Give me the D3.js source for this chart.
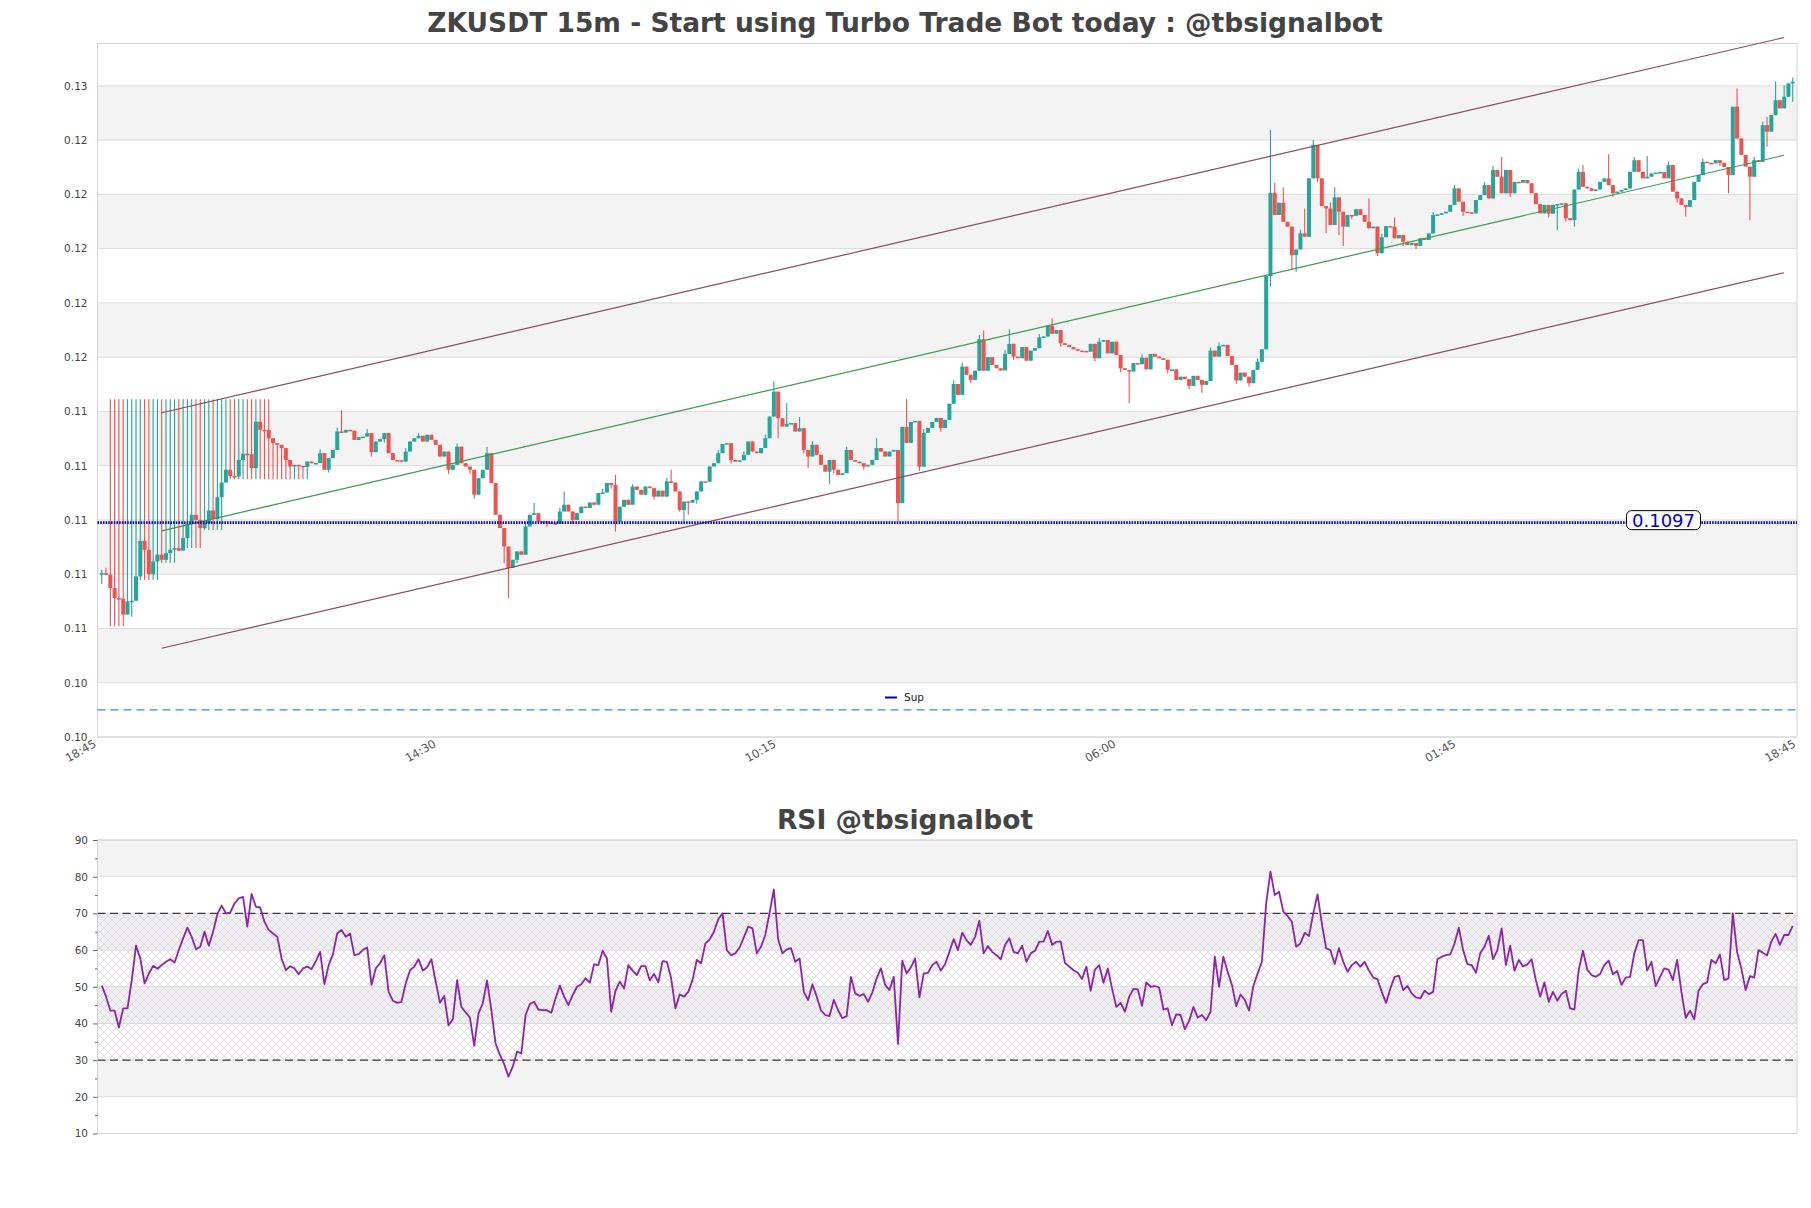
<!DOCTYPE html>
<html>
<head>
<meta charset="utf-8">
<script src="https://cdn.jsdelivr.net/npm/d3@7"></script>
<style>
  body { margin: 0; background: #fff; }
  svg text { font-family: "DejaVu Sans", sans-serif; }
</style>
</head>
<body>
<svg id="chart" width="1811" height="1208"></svg>
<script>
// 15m closes (open of a candle = close of the one before)
var firstOpen = 0.10784;
var closes = [
  0.10784, 0.10778, 0.10729, 0.10692, 0.10690, 0.10631, 0.10680, 0.10682, 0.10772, 0.10903,
  0.10870, 0.10780, 0.10827, 0.10852, 0.10833, 0.10858, 0.10870, 0.10876, 0.10867, 0.10913,
  0.10966, 0.10999, 0.10980, 0.10950, 0.10968, 0.11015, 0.10983, 0.11064, 0.11118, 0.11165,
  0.11142, 0.11140, 0.11201, 0.11224, 0.11222, 0.11171, 0.11342, 0.11312, 0.11311, 0.11281,
  0.11263, 0.11257, 0.11245, 0.11201, 0.11177, 0.11183, 0.11179, 0.11175, 0.11195, 0.11189,
  0.11190, 0.11226, 0.11165, 0.11208, 0.11238, 0.11306, 0.11302, 0.11312, 0.11309, 0.11275,
  0.11285, 0.11287, 0.11300, 0.11230, 0.11269, 0.11278, 0.11300, 0.11226, 0.11201, 0.11200,
  0.11195, 0.11232, 0.11269, 0.11281, 0.11290, 0.11269, 0.11294, 0.11275, 0.11257, 0.11214,
  0.11232, 0.11165, 0.11183, 0.11250, 0.11189, 0.11177, 0.11165, 0.11073, 0.11134, 0.11165,
  0.11226, 0.11116, 0.10999, 0.10950, 0.10882, 0.10803, 0.10833, 0.10864, 0.10852, 0.10956,
  0.10999, 0.11005, 0.10974, 0.10975, 0.10971, 0.10968, 0.10966, 0.11011, 0.11036, 0.11011,
  0.10980, 0.11005, 0.11029, 0.11024, 0.11044, 0.11036, 0.11079, 0.11081, 0.11116, 0.11109,
  0.10974, 0.11029, 0.11054, 0.11036, 0.11103, 0.11091, 0.11073, 0.11103, 0.11097, 0.11066,
  0.11088, 0.11066, 0.11122, 0.11118, 0.11085, 0.11017, 0.11048, 0.11044, 0.11054, 0.11085,
  0.11122, 0.11121, 0.11177, 0.11189, 0.11226, 0.11260, 0.11263, 0.11201, 0.11195, 0.11200,
  0.11220, 0.11269, 0.11232, 0.11226, 0.11245, 0.11281, 0.11361, 0.11453, 0.11355, 0.11324,
  0.11334, 0.11337, 0.11306, 0.11318, 0.11238, 0.11214, 0.11257, 0.11220, 0.11183, 0.11158,
  0.11201, 0.11165, 0.11146, 0.11152, 0.11238, 0.11201, 0.11195, 0.11189, 0.11177, 0.11183,
  0.11201, 0.11245, 0.11232, 0.11214, 0.11232, 0.11238, 0.11042, 0.11323, 0.11264, 0.11341,
  0.11345, 0.11176, 0.11301, 0.11319, 0.11341, 0.11356, 0.11319, 0.11349, 0.11408, 0.11481,
  0.11441, 0.11545, 0.11515, 0.11496, 0.11530, 0.11646, 0.11530, 0.11580, 0.11551, 0.11539,
  0.11531, 0.11592, 0.11629, 0.11582, 0.11576, 0.11617, 0.11567, 0.11604, 0.11613, 0.11653,
  0.11656, 0.11696, 0.11666, 0.11680, 0.11631, 0.11625, 0.11617, 0.11609, 0.11604, 0.11603,
  0.11600, 0.11629, 0.11576, 0.11637, 0.11643, 0.11594, 0.11637, 0.11588, 0.11539, 0.11533,
  0.11527, 0.11558, 0.11554, 0.11578, 0.11535, 0.11592, 0.11582, 0.11576, 0.11570, 0.11533,
  0.11535, 0.11496, 0.11508, 0.11499, 0.11474, 0.11511, 0.11496, 0.11478, 0.11492, 0.11604,
  0.11582, 0.11621, 0.11625, 0.11584, 0.11551, 0.11494, 0.11523, 0.11508, 0.11484, 0.11533,
  0.11563, 0.11609, 0.11879, 0.12186, 0.12104, 0.12149, 0.12079, 0.12061, 0.11956, 0.11977,
  0.12036, 0.12024, 0.12239, 0.12362, 0.12239, 0.12137, 0.12128, 0.12067, 0.12169, 0.12116,
  0.12061, 0.12104, 0.12101, 0.12125, 0.12104, 0.12079, 0.12055, 0.12061, 0.11963, 0.12022,
  0.12063, 0.12061, 0.12018, 0.12030, 0.12005, 0.11993, 0.12000, 0.11990, 0.12018, 0.12012,
  0.12036, 0.12104, 0.12106, 0.12110, 0.12116, 0.12141, 0.12202, 0.12153, 0.12116, 0.12114,
  0.12110, 0.12159, 0.12177, 0.12214, 0.12165, 0.12270, 0.12245, 0.12184, 0.12270, 0.12184,
  0.12226, 0.12223, 0.12233, 0.12221, 0.12184, 0.12144, 0.12110, 0.12141, 0.12109, 0.12141,
  0.12144, 0.12147, 0.12092, 0.12085, 0.12198, 0.12263, 0.12208, 0.12202, 0.12193, 0.12198,
  0.12226, 0.12239, 0.12214, 0.12184, 0.12190, 0.12196, 0.12202, 0.12263, 0.12306, 0.12263,
  0.12239, 0.12245, 0.12257, 0.12260, 0.12262, 0.12239, 0.12288, 0.12190, 0.12165, 0.12141,
  0.12134, 0.12159, 0.12226, 0.12251, 0.12300, 0.12296, 0.12294, 0.12306, 0.12296, 0.12281,
  0.12251, 0.12503, 0.12386, 0.12325, 0.12282, 0.12245, 0.12306, 0.12300, 0.12435, 0.12411,
  0.12472, 0.12527, 0.12497, 0.12540, 0.12589, 0.12595
];

// wicks that stick out of the body, by candle index
var highs = {
  0: 0.10796, 1: 0.10804,
  2: 0.11425, 3: 0.11425, 4: 0.11425, 5: 0.11425, 6: 0.11425, 7: 0.11425, 8: 0.11425, 9: 0.11425,
  10: 0.11425, 11: 0.11425, 12: 0.11425, 13: 0.11425, 14: 0.11425, 15: 0.11425, 16: 0.11425,
  17: 0.11425, 18: 0.11425, 19: 0.11425, 20: 0.11425, 21: 0.11425, 22: 0.11425, 23: 0.11425,
  24: 0.11425, 25: 0.11425, 26: 0.11425, 27: 0.11425, 28: 0.11425, 29: 0.11425, 30: 0.11425,
  31: 0.11425, 32: 0.11425, 33: 0.11425, 34: 0.11425, 35: 0.11425, 36: 0.11425, 37: 0.11425,
  38: 0.11425, 39: 0.11425,
  51: 0.11240, 55: 0.11320, 56: 0.11385, 62: 0.11315, 71: 0.11245, 74: 0.11300, 83: 0.11262,
  90: 0.11250, 99: 0.10968, 101: 0.11042, 107: 0.11025, 108: 0.11085, 117: 0.11095, 120: 0.11146,
  124: 0.11112, 132: 0.11135, 133: 0.11165, 144: 0.11237, 150: 0.11232, 155: 0.11295, 157: 0.11490,
  160: 0.11410, 163: 0.11359, 166: 0.11270, 174: 0.11250, 181: 0.11281, 188: 0.11426, 192: 0.11315,
  199: 0.11495, 201: 0.11560, 205: 0.11662, 206: 0.11678, 211: 0.11605, 212: 0.11683, 219: 0.11665,
  222: 0.11723, 233: 0.11650, 243: 0.11590, 259: 0.11615, 261: 0.11635, 270: 0.11575, 273: 0.12417,
  274: 0.12223, 276: 0.12206, 280: 0.12050, 281: 0.12128, 283: 0.12380, 287: 0.12150, 288: 0.12206,
  296: 0.12165, 299: 0.12035, 302: 0.12095, 311: 0.12115, 316: 0.12215, 323: 0.12225, 325: 0.12285,
  327: 0.12318, 345: 0.12275, 346: 0.12288, 352: 0.12328, 358: 0.12318, 361: 0.12321, 366: 0.12300,
  374: 0.12312, 382: 0.12570, 386: 0.12318, 388: 0.12448, 389: 0.12466, 391: 0.12597, 393: 0.12583,
  395: 0.12611
};
var lows = {
  0: 0.10745, 2: 0.10588, 3: 0.10588, 4: 0.10588, 5: 0.10588, 7: 0.10623, 8: 0.10686,
  9: 0.10759, 10: 0.10759, 11: 0.10759, 12: 0.10759, 13: 0.10759, 14: 0.10822, 15: 0.10822,
  16: 0.10822, 17: 0.10822, 18: 0.10877, 19: 0.10877, 20: 0.10877, 21: 0.10877, 22: 0.10877,
  23: 0.10877, 24: 0.10943, 25: 0.10943, 26: 0.10943, 27: 0.10943, 28: 0.10943, 29: 0.11130,
  30: 0.11130, 31: 0.11130, 32: 0.11130, 33: 0.11130, 34: 0.11130, 35: 0.11130, 36: 0.11130,
  37: 0.11130, 38: 0.11130, 39: 0.11130, 40: 0.11130, 41: 0.11130, 42: 0.11130, 43: 0.11130,
  44: 0.11130, 45: 0.11130, 46: 0.11130, 47: 0.11130, 48: 0.11130,
  53: 0.11155, 63: 0.11214, 66: 0.11265, 81: 0.11150, 86: 0.11150, 87: 0.11058, 94: 0.10820,
  95: 0.10692, 97: 0.10820, 104: 0.10955, 110: 0.10965, 119: 0.11095, 120: 0.10937, 129: 0.11055,
  135: 0.11011, 136: 0.10974, 137: 0.10999, 139: 0.11040, 147: 0.11188, 158: 0.11281, 164: 0.11225,
  165: 0.11171, 170: 0.11113, 171: 0.11150, 178: 0.11165, 186: 0.10974, 191: 0.11160, 196: 0.11305,
  203: 0.11485, 213: 0.11570, 224: 0.11618, 232: 0.11565, 238: 0.11525, 240: 0.11410, 249: 0.11520,
  254: 0.11462, 257: 0.11449, 265: 0.11482, 268: 0.11472, 273: 0.11840, 278: 0.11904, 279: 0.11895,
  284: 0.12225, 286: 0.12038, 289: 0.12030, 290: 0.11990, 292: 0.12088, 298: 0.11953, 304: 0.11990,
  307: 0.11978, 318: 0.12100, 329: 0.12170, 338: 0.12095, 340: 0.12048, 342: 0.12080, 344: 0.12061,
  353: 0.12172, 368: 0.12150, 370: 0.12098, 378: 0.12285, 380: 0.12184, 385: 0.12085, 389: 0.12355,
  395: 0.12521
};

var rsi = [
  50.3, 47.3, 43.5, 43.5, 38.9, 44.1, 44.1, 51.8, 61.2, 57.7,
  50.9, 53.6, 55.7, 54.9, 55.9, 56.8, 57.5, 56.6, 60, 63.2,
  66.1, 63.6, 60.2, 60.9, 65, 61.2, 65, 69.8, 72.1, 70,
  70.2, 72.7, 74.1, 74.5, 66.4, 75.3, 71.8, 71.6, 67.7, 65.5,
  64.5, 63.6, 57.7, 54.5, 55.6, 55, 53.4, 55, 55.5, 54.8,
  57.0, 59.5, 50.7, 55.9, 58.9, 64.5, 65.5, 63.6, 64.5, 58.6,
  58.9, 60, 60.7, 50.5, 55, 56.4, 58.6, 48.6, 46.2, 45.6,
  45.9, 50.9, 54.5, 55.5, 57.5, 54.4, 55.3, 57.5, 51.4, 45.6,
  47.5, 39.5, 41.1, 51.8, 44.5, 43, 41.6, 33.9, 42.7, 45.5,
  51.7, 43.6, 34.5, 31.4, 28.9, 25.5, 28.2, 32.3, 31.8, 42.3,
  45.3, 45.9, 43.8, 43.6, 43.6, 42.9, 46.8, 50.3, 47.3, 45,
  47.7, 50, 50.7, 52.3, 51.1, 56.1, 55.9,
  59.8, 57.7, 43.2, 48.9, 51.4, 49.5, 55.9, 54.4, 53.2, 55.6,
  55.6, 51.8, 53.5, 51.2, 57, 56.8, 52.3, 44.1, 47.9, 47.3,
  48.6, 51.8, 57.3, 56.4, 61.8, 62.9, 65, 68.4, 70, 60,
  58.6, 59.1, 60.7, 63.5, 66.4, 65.9, 59.1, 60.9, 64.1, 70.2,
  76.5, 62.9, 59.1, 60.2, 60.5, 56.8, 57.7, 48.6, 46.4, 50.7,
  47.3, 43.6, 42.3, 42, 46.4, 43.6, 41.4, 42, 52.7, 48.2,
  47.5, 48, 45.9, 48.4, 52.3, 55, 50.5, 49.1, 52.7, 34.4,
  57.1, 53.6, 55.3, 57.7, 47.1, 53.6, 53.8, 55.9, 56.8, 54.4,
  56.2, 59.5, 63, 60, 64.7, 62.7, 61.4, 63.6, 68, 59.1,
  61.1, 59.5, 58.6, 57.5, 61.4, 63.2, 59.5, 59.1, 61.2, 56.8,
  59.1, 59.8, 62.3, 62.3, 65.2, 61.4, 62.3, 62.3, 56.5, 55.5,
  54.5, 53.8, 52.1, 55.5, 48.9, 54.7, 55.9, 51.1, 55, 49.5,
  44.5, 45.6, 43.2, 47.3, 49.4, 49.3, 44.8, 51.2, 50, 50.2,
  49.8, 43.8, 44.1, 39.5, 42.5, 42.3, 38.4, 40.7, 44.5, 41.6,
  42.3,
  40.9, 43.2, 58.2, 50, 58.2, 54.1, 50.5, 44.7, 47.9, 46.4,
  43.5, 50.2, 53.6, 56.8, 72.7, 81.4, 75, 75.9, 70.5, 69.3,
  67.7, 60.9, 61.8, 64.7, 63.8, 70, 75.2, 67.3, 60.5, 60,
  56.2, 60.5, 56.8, 54.1, 55.9, 56.8, 55.5, 56.8, 54.4, 52.5,
  52.1, 48.6, 45.6, 49.5, 52.7, 53, 49.1, 50.2, 48.2, 47.1,
  46.8, 48.9, 48, 48.6, 57.5, 58.2, 58.6, 58.8, 61.8, 66.1,
  60, 56.2, 55.9, 53.8, 59.1, 60.9, 63.9, 57.5, 60, 65.9,
  55.9, 61.2, 54.4, 57.3, 55.5, 56.1, 57.5, 51.8, 47.3, 51.2,
  45.9, 48.6, 46.2, 48, 48.9, 44.1, 43.8, 54.5, 59.8, 54.7,
  53.2, 52.7, 53.5, 55.9, 57.1, 53.4, 54.3, 50.5, 52.5, 52.7,
  59.1, 62.7, 62.7, 54.4, 56.8, 50.2, 52.7, 55, 54.7, 51.8,
  57.3, 48.6, 41.5, 43.5, 41.1, 48.9, 50.7, 51.2, 57.3, 56.4,
  58.8, 51.8, 52.3, 70, 59.5, 55, 49.1, 52.9, 52.5, 60,
  59.3, 58.5, 62.3, 64.4, 61.4, 64.1, 64.1, 66.6
];

var priceTicks = [0.1018, 0.1038, 0.1058, 0.1078, 0.1098, 0.1118, 0.1138,
                  0.1158, 0.1178, 0.1198, 0.1218, 0.1238, 0.1258];
var rsiTicks = [10, 20, 30, 40, 50, 60, 70, 80, 90];
var rsiMinor = [15, 25, 35, 45, 55, 65, 75, 85];
var timeLabels = ["18:45", "14:30", "10:15", "06:00", "01:45", "18:45"];

var support = 0.1097;
var lowerLevel = 0.1028;

// regression channel: candle index at both ends, price at both ends
var channelIdx = [14, 393];
var channelUpper = [0.11375, 0.12758];
var channelMid = [0.10940, 0.12324];
var channelLower = [0.10507, 0.11891];

var upColor = "#26a69a", downColor = "#ef5350";

var svg = d3.select("#chart");
var left = 97.5, right = 1797;
var top1 = 43.5, bottom1 = 737;
var top2 = 840, bottom2 = 1133.5;

var x = d3.scaleLinear().domain([-1, closes.length]).range([left, right]);
var y = d3.scaleLinear().domain([0.1018, 0.12736]).range([bottom1, top1]);
var yr = d3.scaleLinear().domain([10, 90]).range([bottom2, top2]);

var candles = closes.map(function (c, i) {
  var o = i === 0 ? firstOpen : closes[i - 1];
  var h = highs[i] !== undefined ? highs[i] : Math.max(o, c);
  var l = lows[i] !== undefined ? lows[i] : Math.min(o, c);
  return { i: i, o: o, c: c, h: Math.max(h, o, c), l: Math.min(l, o, c) };
});

var defs = svg.append("defs");
var hatch = defs.append("pattern")
  .attr("id", "hatch")
  .attr("patternUnits", "userSpaceOnUse")
  .attr("width", 8)
  .attr("height", 8);
hatch.append("path")
  .attr("d", "M0,0L8,8M8,0L0,8")
  .attr("stroke", "#d2cad8")
  .attr("stroke-width", 0.6)
  .attr("fill", "none");

// ---------- titles ----------
svg.append("text")
  .attr("x", 905)
  .attr("y", 32)
  .attr("text-anchor", "middle")
  .style("font-size", "26.5px")
  .style("font-weight", "bold")
  .style("fill", "#444")
  .text("ZKUSDT 15m - Start using Turbo Trade Bot today : @tbsignalbot");

svg.append("text")
  .attr("x", 905)
  .attr("y", 829)
  .attr("text-anchor", "middle")
  .style("font-size", "26.5px")
  .style("font-weight", "bold")
  .style("fill", "#444")
  .text("RSI @tbsignalbot");

// ---------- price panel ----------
var main = svg.append("g");

// alternating bands between ticks
main.selectAll(".band")
  .data(priceTicks.slice(0, -1).filter(function (d, k) { return k % 2 === 1; }))
  .enter()
  .append("rect")
  .attr("x", left)
  .attr("width", right - left)
  .attr("y", function (d) { return y(d + 0.002); })
  .attr("height", function (d) { return y(d) - y(d + 0.002); })
  .style("fill", "#f3f3f3");

main.selectAll(".grid")
  .data(priceTicks)
  .enter()
  .append("line")
  .attr("x1", left)
  .attr("x2", right)
  .attr("y1", function (d) { return y(d); })
  .attr("y2", function (d) { return y(d); })
  .style("stroke", "#dcdcdc")
  .style("stroke-width", 1);

var yAxis = d3.axisLeft(y)
  .tickValues(priceTicks)
  .tickFormat(d3.format(".2f"))
  .tickSize(0)
  .tickPadding(10);
main.append("g")
  .attr("transform", "translate(" + left + ",0)")
  .call(yAxis)
  .call(function (g) { g.select(".domain").remove(); })
  .selectAll("text")
  .style("font-family", "DejaVu Sans")
  .style("font-size", "10.5px")
  .style("fill", "#444");

// time labels, evenly spread over the x range
var xd = x.domain();
var xTickPos = timeLabels.map(function (t, k) {
  return xd[0] + k * (xd[1] - xd[0]) / (timeLabels.length - 1);
});
var xAxis = d3.axisBottom(x)
  .tickValues(xTickPos)
  .tickFormat(function (d, k) { return timeLabels[k]; })
  .tickSize(0)
  .tickPadding(0);
main.append("g")
  .attr("transform", "translate(0," + bottom1 + ")")
  .call(xAxis)
  .call(function (g) { g.select(".domain").remove(); })
  .selectAll("text")
  .attr("y", 0)
  .attr("dy", 0)
  .attr("transform", "translate(-1,9) rotate(-30)")
  .style("text-anchor", "end")
  .style("font-family", "DejaVu Sans")
  .style("font-size", "11.5px")
  .style("fill", "#555");

main.append("rect")
  .attr("x", left)
  .attr("y", top1)
  .attr("width", right - left)
  .attr("height", bottom1 - top1)
  .style("fill", "none")
  .style("stroke", "#d4d4d4");

// candles
var bw = 4;
var cg = main.append("g");
cg.selectAll(".wick")
  .data(candles)
  .enter()
  .append("line")
  .attr("x1", function (d) { return x(d.i); })
  .attr("x2", function (d) { return x(d.i); })
  .attr("y1", function (d) { return y(d.h); })
  .attr("y2", function (d) { return y(d.l); })
  .style("stroke", function (d) { return d.c >= d.o ? upColor : downColor; })
  .style("stroke-width", 1.1);
cg.selectAll(".body")
  .data(candles)
  .enter()
  .append("rect")
  .attr("x", function (d) { return x(d.i) - bw / 2; })
  .attr("width", bw)
  .attr("y", function (d) { return y(Math.max(d.o, d.c)); })
  .attr("height", function (d) { return Math.max(1.5, Math.abs(y(d.o) - y(d.c))); })
  .style("fill", function (d) { return d.c >= d.o ? upColor : downColor; });

// channel
var chan = [
  { v: channelUpper, color: "#8c4a5e" },
  { v: channelMid, color: "#3c9a50" },
  { v: channelLower, color: "#8c4a5e" }
];
main.selectAll(".chan")
  .data(chan)
  .enter()
  .append("line")
  .attr("x1", x(channelIdx[0]))
  .attr("x2", x(channelIdx[1]))
  .attr("y1", function (d) { return y(d.v[0]); })
  .attr("y2", function (d) { return y(d.v[1]); })
  .style("stroke", function (d) { return d.color; })
  .style("stroke-width", 1.2);

// support line with its label
main.append("line")
  .attr("x1", left)
  .attr("x2", right)
  .attr("y1", y(support))
  .attr("y2", y(support))
  .style("stroke", "#0c0cc4")
  .style("stroke-width", 2.6)
  .style("stroke-dasharray", "1.6,1.1");

main.append("line")
  .attr("x1", left)
  .attr("x2", right)
  .attr("y1", y(lowerLevel))
  .attr("y2", y(lowerLevel))
  .style("stroke", "#2796d6")
  .style("stroke-width", 1.2)
  .style("stroke-dasharray", "8,5");

var lbx = 1663.5, lby = y(support) - 2.5;
main.append("rect")
  .attr("x", lbx - 37)
  .attr("y", lby - 9.5)
  .attr("width", 74)
  .attr("height", 19)
  .attr("rx", 5)
  .style("fill", "#fff")
  .style("stroke", "#000")
  .style("stroke-width", 1);
main.append("text")
  .attr("x", lbx)
  .attr("y", lby)
  .attr("dy", "0.36em")
  .attr("text-anchor", "middle")
  .style("font-size", "18px")
  .style("fill", "#0000d0")
  .text(d3.format(".4f")(support));

// legend
main.append("line")
  .attr("x1", 885)
  .attr("x2", 897)
  .attr("y1", 697.5)
  .attr("y2", 697.5)
  .style("stroke", "#0000c8")
  .style("stroke-width", 2);
main.append("text")
  .attr("x", 904)
  .attr("y", 697.5)
  .attr("dy", "0.35em")
  .style("font-size", "10.5px")
  .style("fill", "#222")
  .text("Sup");

// ---------- rsi panel ----------
var rp = svg.append("g");

rp.selectAll(".band")
  .data(rsiTicks.slice(0, -1).filter(function (d, k) { return k % 2 === 1; }))
  .enter()
  .append("rect")
  .attr("x", left)
  .attr("width", right - left)
  .attr("y", function (d) { return yr(d + 10); })
  .attr("height", function (d) { return yr(d) - yr(d + 10); })
  .style("fill", "#f3f3f3");

// overbought / oversold zone
rp.append("rect")
  .attr("x", left)
  .attr("width", right - left)
  .attr("y", yr(70))
  .attr("height", yr(30) - yr(70))
  .style("fill", "rgba(150,110,170,0.025)");
rp.append("rect")
  .attr("x", left)
  .attr("width", right - left)
  .attr("y", yr(70))
  .attr("height", yr(30) - yr(70))
  .style("fill", "url(#hatch)");

rp.selectAll(".grid")
  .data(rsiTicks)
  .enter()
  .append("line")
  .attr("x1", left)
  .attr("x2", right)
  .attr("y1", function (d) { return yr(d); })
  .attr("y2", function (d) { return yr(d); })
  .style("stroke", "#dcdcdc")
  .style("stroke-width", 1);

rp.selectAll(".lvl")
  .data([70, 30])
  .enter()
  .append("line")
  .attr("x1", left)
  .attr("x2", right)
  .attr("y1", function (d) { return yr(d); })
  .attr("y2", function (d) { return yr(d); })
  .style("stroke", "#3a3a3a")
  .style("stroke-width", 1.3)
  .style("stroke-dasharray", "8,4.5");

rp.append("rect")
  .attr("x", left)
  .attr("y", top2)
  .attr("width", right - left)
  .attr("height", bottom2 - top2)
  .style("fill", "none")
  .style("stroke", "#d4d4d4");

var rAxis = d3.axisLeft(yr).tickValues(rsiTicks).tickSize(4.5).tickPadding(5);
rp.append("g")
  .attr("transform", "translate(" + left + ",0)")
  .call(rAxis)
  .call(function (g) {
    g.select(".domain").remove();
    g.selectAll("line").style("stroke", "#666");
    g.selectAll("text")
      .style("font-family", "DejaVu Sans")
      .style("font-size", "10.5px")
      .style("fill", "#444");
  });
var rMinor = d3.axisLeft(yr).tickValues(rsiMinor).tickSize(2.5).tickFormat("");
rp.append("g")
  .attr("transform", "translate(" + left + ",0)")
  .call(rMinor)
  .call(function (g) {
    g.select(".domain").remove();
    g.selectAll("line").style("stroke", "#666");
  });

var rsiLine = d3.line()
  .x(function (d, i) { return x(i); })
  .y(function (d) { return yr(d); });
rp.append("path")
  .datum(rsi)
  .attr("d", rsiLine)
  .style("fill", "none")
  .style("stroke", "#8e24aa")
  .style("stroke-width", 1.8)
  .style("stroke-linejoin", "round");
</script>
</body>
</html>
